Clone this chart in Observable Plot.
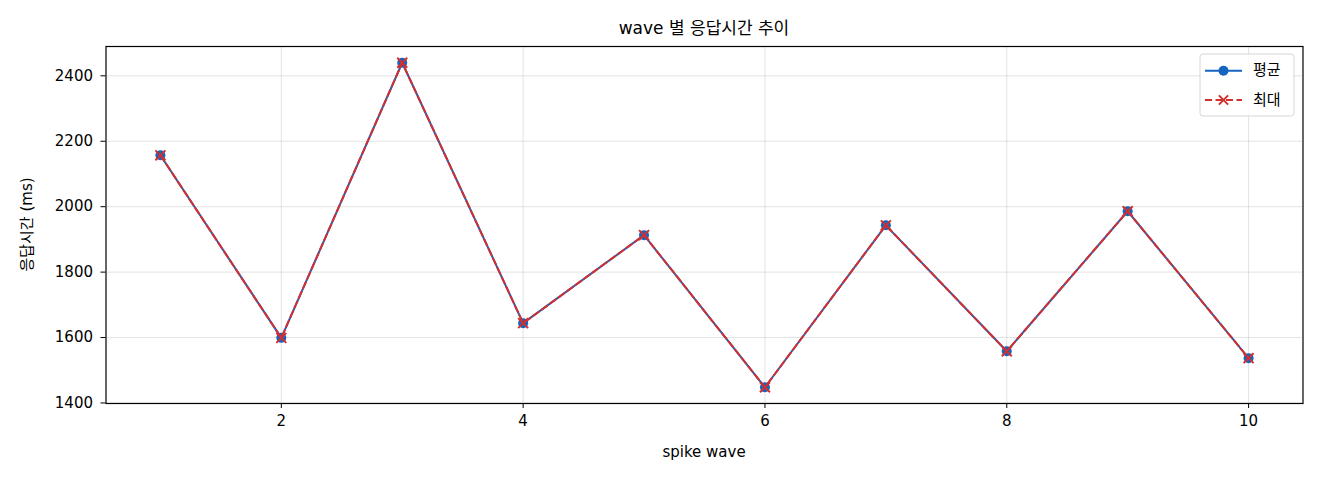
<!DOCTYPE html>
<html>
<head>
<meta charset="utf-8">
<script src="https://cdn.jsdelivr.net/npm/d3@7"></script>
<script src="https://cdn.jsdelivr.net/npm/@observablehq/plot@0.6"></script>
<style>
  html, body { margin: 0; padding: 0; background: #fff; }
  svg { display: block; }
</style>
</head>
<body>
<div id="chart"></div>
<script>
const waves = [1, 2, 3, 4, 5, 6, 7, 8, 9, 10];
const avgMs = [2157, 1599, 2440, 1644, 1913, 1448, 1943, 1558, 1986, 1537];
const maxMs = [2157, 1599, 2440, 1644, 1913, 1448, 1943, 1558, 1986, 1537];
const xTicks = [2, 4, 6, 8, 10];
const yTicks = [1400, 1600, 1800, 2000, 2200, 2400];
const seriesNames = ["평균", "최대"];
const title = "wave 별 응답시간 추이";
const xLabel = "spike wave";
const yLabel = "응답시간 (ms)";

const BLUE = "#1565C0";
const RED = "#D32F2F";
const FONT = "'DejaVu Sans', 'Noto Sans CJK KR', sans-serif";

const avgData = waves.map((w, i) => ({x: w, y: avgMs[i]}));
const maxData = waves.map((w, i) => ({x: w, y: maxMs[i]}));

const all = avgMs.concat(maxMs);
const lo = d3.min(all), hi = d3.max(all);
const pad = (hi - lo) * 0.05;
const xlo = d3.min(waves), xhi = d3.max(waves);
const xpad = (xhi - xlo) * 0.05;

const W = 1320, H = 480;
const mL = 105.5, mR = 17.5, mT = 46, mB = 77;

const chart = Plot.plot({
  width: W,
  height: H,
  marginLeft: mL,
  marginRight: mR,
  marginTop: mT,
  marginBottom: mB,
  style: {fontFamily: FONT, fontSize: "15px", color: "#000", background: "#fff"},
  x: {domain: [xlo - xpad, xhi + xpad]},
  y: {domain: [lo - pad, hi + pad]},
  marks: [
    Plot.gridX(xTicks, {stroke: "#b0b0b0", strokeOpacity: 0.35, strokeWidth: 1}),
    Plot.gridY(yTicks, {stroke: "#b0b0b0", strokeOpacity: 0.35, strokeWidth: 1}),
    Plot.axisX(xTicks, {tickSize: 5, tickPadding: 7, label: null, fontSize: 15, tickFormat: d => String(d)}),
    Plot.axisY(yTicks, {tickSize: 5, tickPadding: 8, label: null, fontSize: 15, tickFormat: d => String(d)}),
    Plot.line(avgData, {x: "x", y: "y", stroke: BLUE, strokeWidth: 2}),
    Plot.dot(avgData, {x: "x", y: "y", fill: BLUE, r: 5, stroke: "none"}),
    Plot.line(maxData, {x: "x", y: "y", stroke: RED, strokeWidth: 2, strokeDasharray: "7,3.5"}),
    Plot.dot(maxData, {x: "x", y: "y", symbol: "times", stroke: RED, strokeWidth: 2, r: 4.6}),
    Plot.frame({stroke: "#000", strokeWidth: 1.2})
  ]
});

document.getElementById("chart").appendChild(chart);

const svg = d3.select(chart);
const cx = mL + (W - mL - mR) / 2;

svg.append("text")
  .attr("x", cx).attr("y", 29)
  .attr("text-anchor", "middle").attr("dominant-baseline", "middle")
  .style("font-family", FONT).style("font-size", "17px").attr("fill", "#000")
  .text(title);

svg.append("text")
  .attr("x", cx).attr("y", 452)
  .attr("text-anchor", "middle").attr("dominant-baseline", "middle")
  .style("font-family", FONT).style("font-size", "15px").attr("fill", "#000")
  .text(xLabel);

svg.append("text")
  .attr("transform", `translate(27,${mT + (H - mT - mB) / 2}) rotate(-90)`)
  .attr("text-anchor", "middle").attr("dominant-baseline", "middle")
  .style("font-family", FONT).style("font-size", "15px").attr("fill", "#000")
  .text(yLabel);

// legend
const lg = svg.append("g").attr("transform", "translate(1200,54)");
lg.append("rect").attr("x", 0).attr("y", 0).attr("width", 94).attr("height", 62)
  .attr("rx", 3).attr("fill", "#fff").attr("fill-opacity", 0.85)
  .attr("stroke", "#d6d6d6").attr("stroke-width", 1);
const rows = [
  {name: seriesNames[0], color: BLUE, dash: null, sym: "circle", y: 16.7},
  {name: seriesNames[1], color: RED, dash: "7,3.5", sym: "times", y: 46}
];
rows.forEach(r => {
  lg.append("line").attr("x1", 5).attr("x2", 42).attr("y1", r.y).attr("y2", r.y)
    .attr("stroke", r.color).attr("stroke-width", 2)
    .attr("stroke-dasharray", r.dash);
  if (r.sym === "circle") {
    lg.append("circle").attr("cx", 23.5).attr("cy", r.y).attr("r", 5).attr("fill", r.color);
  } else {
    const s = 4.6;
    lg.append("path").attr("d", `M${23.5 - s},${r.y - s}L${23.5 + s},${r.y + s}M${23.5 - s},${r.y + s}L${23.5 + s},${r.y - s}`)
      .attr("stroke", r.color).attr("stroke-width", 2).attr("fill", "none");
  }
  lg.append("text").attr("x", 53).attr("y", r.y)
    .attr("text-anchor", "start").attr("dominant-baseline", "middle")
    .style("font-family", FONT).style("font-size", "15px").attr("fill", "#000")
    .text(r.name);
});
</script>
</body>
</html>
